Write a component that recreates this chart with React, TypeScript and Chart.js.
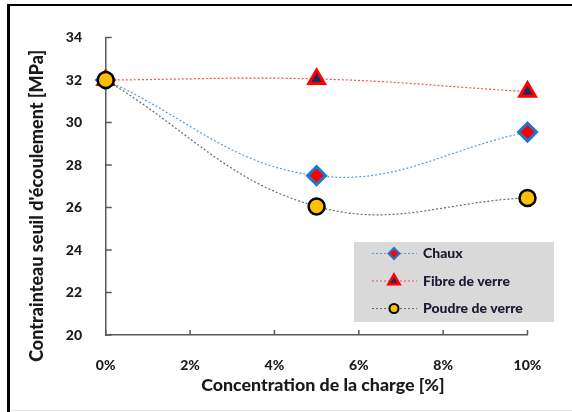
import React, { useEffect, useRef } from 'react';
import { Chart, registerables } from 'chart.js';

Chart.register(...registerables);

// ---- Data ----
const concentrations = [0, 5, 10];
const chauxValues = [32.0, 27.5, 29.55];
const fibreValues = [32.0, 32.05, 31.45];
const poudreValues = [32.0, 26.05, 26.45];
const seriesNames = ['Chaux', 'Fibre de verre', 'Poudre de verre'];
const xTitle = 'Concentration de la charge [%]';
const yTitle = "Contrainteau seuil d'écoulement [MPa]";
const xRange = [0, 10];
const xStep = 2;
const yRange = [20, 34];
const yStep = 2;

// ---- Styles ----
const FONT = 'Lato';
const WEIGHT = '900';
const TEXT = '#1a1a1a';
const AXIS = '#595959';
const styles = [
  { line: '#5b9bd5', fill: '#ff0000', border: '#1f78c8', shape: 'diamond' },
  { line: '#ff4d4d', fill: '#1f2a5c', border: '#ff0000', shape: 'triangle' },
  { line: '#6a6a6a', fill: '#ffc000', border: '#000000', shape: 'circle' },
];

function drawMarker(ctx: CanvasRenderingContext2D, shape: string, x: number, y: number, fill: string, border: string) {
  ctx.save();
  ctx.beginPath();
  if (shape === 'diamond') {
    const r = 5.5;
    ctx.moveTo(x, y - r);
    ctx.lineTo(x + r, y);
    ctx.lineTo(x, y + r);
    ctx.lineTo(x - r, y);
    ctx.closePath();
    ctx.lineWidth = 2;
  } else if (shape === 'triangle') {
    const r = 6.5;
    for (let i = 0; i < 3; i++) {
      const a = (i * 2 * Math.PI) / 3;
      const px = x + Math.sin(a) * r;
      const py = y - Math.cos(a) * r;
      if (i === 0) ctx.moveTo(px, py);
      else ctx.lineTo(px, py);
    }
    ctx.closePath();
    ctx.lineWidth = 2.5;
  } else {
    ctx.arc(x, y, 4.5, 0, Math.PI * 2);
    ctx.lineWidth = 2;
  }
  ctx.fillStyle = fill;
  ctx.fill();
  ctx.strokeStyle = border;
  ctx.stroke();
  ctx.restore();
}

const decorPlugin = {
  id: 'decor',
  beforeDatasetsDraw(chart: any) {
    const { ctx, chartArea: ca, scales } = chart;
    ctx.save();
    ctx.strokeStyle = AXIS;
    ctx.lineWidth = 1.5;
    scales.y.ticks.forEach((t: any) => {
      const y = scales.y.getPixelForValue(t.value);
      ctx.beginPath();
      ctx.moveTo(ca.left, y);
      ctx.lineTo(ca.left + 6, y);
      ctx.stroke();
    });
    scales.x.ticks.forEach((t: any) => {
      const x = scales.x.getPixelForValue(t.value);
      ctx.beginPath();
      ctx.moveTo(x, ca.bottom);
      ctx.lineTo(x, ca.bottom - 5);
      ctx.stroke();
    });
    ctx.restore();
  },
  afterDraw(chart: any) {
    const { ctx, chartArea: ca } = chart;
    ctx.save();
    // axis titles
    ctx.fillStyle = TEXT;
    ctx.font = `${WEIGHT} 17.8px ${FONT}`;
    ctx.textAlign = 'center';
    ctx.textBaseline = 'middle';
    ctx.fillText(xTitle, ca.left + ca.width * 0.515, ca.bottom + 50);
    ctx.save();
    ctx.translate(ca.left - 69, ca.top + ca.height * 0.566);
    ctx.rotate(-Math.PI / 2);
    ctx.font = `${WEIGHT} 18px ${FONT}`;
    ctx.fillText(yTitle, 0, 0);
    ctx.restore();

    // legend
    const bx = ca.right - 173.5;
    const by = ca.bottom - 93;
    ctx.fillStyle = '#d9d9d9';
    ctx.fillRect(bx, by, 200, 80);
    ctx.font = `${WEIGHT} 14px ${FONT}`;
    ctx.textAlign = 'left';
    ctx.textBaseline = 'middle';
    seriesNames.forEach((name, i) => {
      const st = styles[i];
      const cy = by + 11.5 + i * 27.5;
      ctx.save();
      ctx.strokeStyle = st.line;
      ctx.lineWidth = 1.2;
      ctx.setLineDash([2, 2]);
      ctx.beginPath();
      ctx.moveTo(bx + 18, cy);
      ctx.lineTo(bx + 63, cy);
      ctx.stroke();
      ctx.restore();
      drawMarker(ctx, st.shape, bx + 40, cy, st.fill, st.border);
      ctx.fillStyle = '#1a1a33';
      ctx.fillText(name, bx + 69, cy);
    });
    ctx.restore();
  },
};

export default function App() {
  const ref = useRef<HTMLCanvasElement>(null);

  useEffect(() => {
    const pts = (vals: number[]) => concentrations.map((x, i) => ({ x, y: vals[i] }));
    const common = { borderWidth: 1.2, borderDash: [2, 2], tension: 0.4, fill: false, clip: false };
    const tickFont = { family: FONT, size: 14, weight: WEIGHT };
    const chart = new Chart(ref.current as HTMLCanvasElement, {
      type: 'line',
      data: {
        datasets: [
          {
            ...common,
            label: seriesNames[0],
            data: pts(chauxValues),
            borderColor: styles[0].line,
            pointStyle: 'rectRot',
            pointRadius: 9,
            pointBackgroundColor: styles[0].fill,
            pointBorderColor: styles[0].border,
            pointBorderWidth: 3,
            order: 2,
          },
          {
            ...common,
            label: seriesNames[1],
            data: pts(fibreValues),
            borderColor: styles[1].line,
            pointStyle: 'triangle',
            pointRadius: 9,
            pointBackgroundColor: styles[1].fill,
            pointBorderColor: styles[1].border,
            pointBorderWidth: 3,
            order: 1,
          },
          {
            ...common,
            label: seriesNames[2],
            data: pts(poudreValues),
            borderColor: styles[2].line,
            pointStyle: 'circle',
            pointRadius: 8,
            pointBackgroundColor: styles[2].fill,
            pointBorderColor: styles[2].border,
            pointBorderWidth: 2.5,
            order: 0,
          },
        ] as any,
      },
      options: {
        responsive: false,
        animation: false,
        devicePixelRatio: 1,
        layout: { padding: { left: 0, right: 44.5, top: 37.5, bottom: 0 } },
        plugins: { legend: { display: false }, tooltip: { enabled: false } },
        scales: {
          x: {
            type: 'linear',
            min: xRange[0],
            max: xRange[1],
            ticks: {
              stepSize: xStep,
              callback: (v: any) => `${v}%`,
              font: tickFont,
              color: TEXT,
              padding: 14,
              maxRotation: 0,
            },
            grid: { display: false },
            border: { display: true, color: AXIS, width: 1.5 },
            afterFit: (s: any) => {
              s.height = 77;
            },
          },
          y: {
            min: yRange[0],
            max: yRange[1],
            ticks: {
              stepSize: yStep,
              font: tickFont,
              color: TEXT,
              padding: 15.7,
            },
            grid: { display: false },
            border: { display: true, color: AXIS, width: 1.5 },
            afterFit: (s: any) => {
              s.width = 105.7;
            },
          },
        },
      } as any,
      plugins: [decorPlugin],
    });
    return () => chart.destroy();
  }, []);

  return (
    <div
      style={{
        position: 'fixed',
        left: 0,
        top: 0,
        width: 572,
        height: 412,
        background: '#ffffff',
        overflow: 'hidden',
      }}
    >
      <canvas
        ref={ref}
        width={572}
        height={412}
        style={{ position: 'absolute', left: 0, top: 0, width: 572, height: 412 }}
      />
      <div
        style={{
          position: 'absolute',
          left: 7,
          top: 3.5,
          width: 600,
          height: 420,
          borderLeft: '3px solid #000',
          borderTop: '2.5px solid #000',
          boxSizing: 'border-box',
          pointerEvents: 'none',
        }}
      />
      <div
        style={{ position: 'absolute', left: 10, right: 0, top: 410, height: 1, background: '#e6e6e6' }}
      />
    </div>
  );
}
